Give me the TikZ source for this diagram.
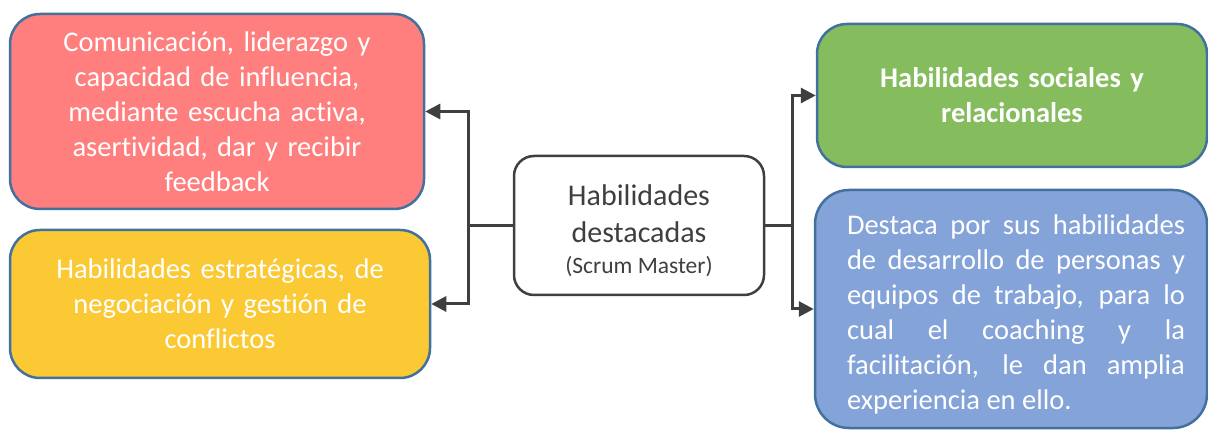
\documentclass[tikz,border=0pt]{standalone}
\usepackage{fontspec}
\setmainfont[Ligatures=NoCommon]{Carlito}
\usetikzlibrary{arrows.meta,positioning}

\definecolor{boxline}{HTML}{41719C}
\definecolor{linkgray}{HTML}{3F3F3F}
\definecolor{skillred}{HTML}{FF7F7F}
\definecolor{skillyellow}{HTML}{FBC934}
\definecolor{skillgreen}{HTML}{85BC5D}
\definecolor{skillblue}{HTML}{84A3D9}

\begin{document}
\begin{tikzpicture}[x=1pt, y=-1pt,
    skill/.style={draw=boxline, line width=2.5pt, rounded corners=30pt, text=white,
        inner sep=0pt, font=\fontsize{28.5}{35}\selectfont},
    link/.style={draw=linkgray, line width=3pt},
    tip/.style={link, -{Triangle[length=15pt, width=15pt]}}]
    \useasboundingbox (0,0) rectangle (1208,430);

    % Centre box
    \node[draw=linkgray, line width=2.5pt, rounded corners=20pt, text=linkgray,
        minimum width=250pt, minimum height=139pt, align=center,
        font=\fontsize{30}{37}\selectfont] (hab) at (639,225.5)
        {\rule{0pt}{31pt}Habilidades\\destacadas\\[-6pt]{\fontsize{23.5}{28}\selectfont(Scrum Master)}};

    % Left side
    \node[skill, fill=skillred, minimum width=414pt, minimum height=195pt,
        text width=380pt, align=center] (com) at (217,111.5)
        {Comunicación, liderazgo y\\capacidad de influencia,\\mediante escucha activa,\\asertividad, dar y recibir\\feedback};
    \node[skill, fill=skillyellow, minimum width=420pt, minimum height=148pt,
        text width=390pt, align=center] (est) at (220,304)
        {Habilidades estratégicas, de\\negociación y gestión de\\conflictos};

    % Right side
    \node[skill, fill=skillgreen, minimum width=390pt, minimum height=143pt,
        text width=360pt, align=center, font=\fontsize{28.5}{35}\selectfont\bfseries] (soc) at (1012,95.5)
        {Habilidades sociales y\\relacionales};
    \node[skill, fill=skillblue, rounded corners=34pt, minimum width=392pt, minimum height=238pt] (des) at (1011,309)
        {\hspace*{10pt}\parbox{338pt}{\rule{0pt}{30pt}Destaca por sus habilidades\linebreak de desarrollo de personas y\linebreak equipos de trabajo, para lo\linebreak cual el coaching y la\linebreak facilitación, le dan amplia\linebreak experiencia en ello.}};

    % Connectors
    \coordinate[left=44pt of hab.west] (jl);
    \coordinate[right=27pt of hab.east] (jr);
    \draw[link] (hab.west) -- (jl);
    \draw[tip] (jl) |- (com.east);
    \draw[tip] (jl) |- (est.east);
    \draw[link] (hab.east) -- (jr);
    \draw[tip] (jr) |- (soc.west);
    \draw[tip] (jr) |- (des.west);
\end{tikzpicture}
\end{document}
